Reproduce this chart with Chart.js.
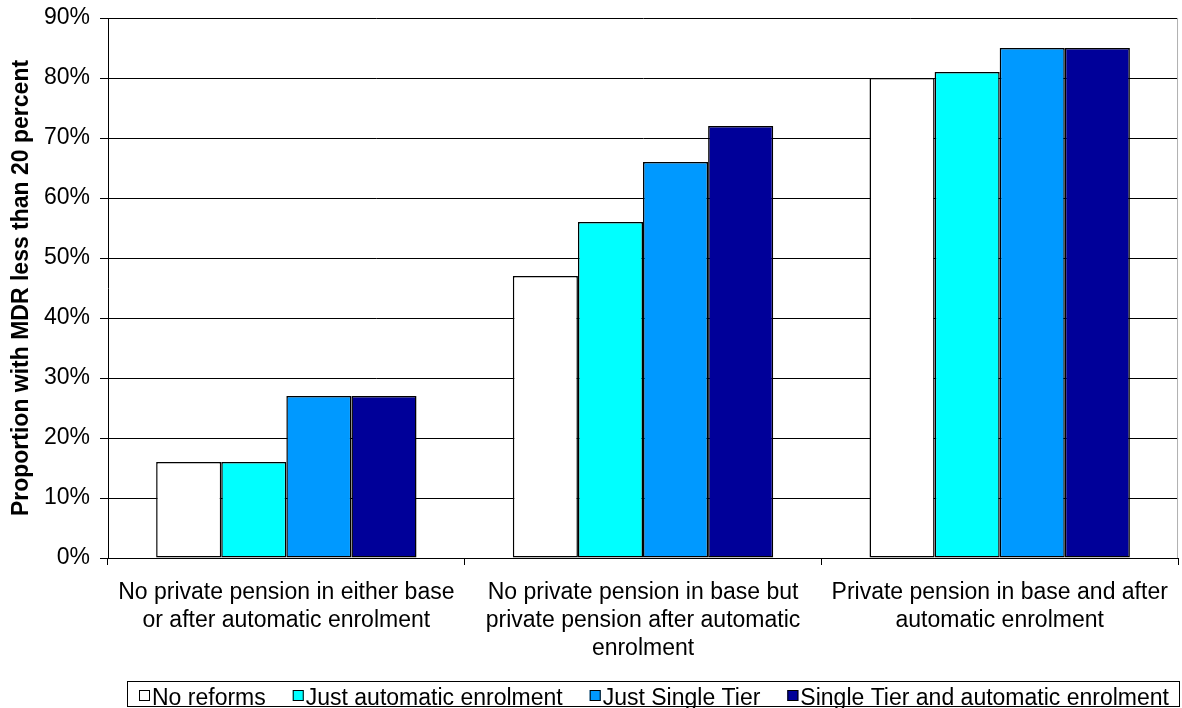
<!DOCTYPE html>
<html>
<head>
<meta charset="utf-8">
<script src="https://cdn.jsdelivr.net/npm/chart.js@4.4.0/dist/chart.umd.min.js"></script>
<style>
  html,body{margin:0;padding:0;background:#fff;}
  #wrap{position:relative;width:1182px;height:708px;}
</style>
</head>
<body>
<div id="wrap"><canvas id="chart" width="1182" height="708"></canvas></div>
<script>
const categories = [
  ['No private pension in either base', 'or after automatic enrolment'],
  ['No private pension in base but', 'private pension after automatic', 'enrolment'],
  ['Private pension in base and after', 'automatic enrolment']
];
const seriesNames = ['No reforms', 'Just automatic enrolment', 'Just Single Tier', 'Single Tier and automatic enrolment'];
const seriesColors = ['#ffffff', '#00ffff', '#0099ff', '#000099'];
const noReforms = [16, 47, 80];
const justAuto = [16, 56, 81];
const justSingleTier = [27, 66, 85];
const singleTierAuto = [27, 72, 85];
const yTicks = [0, 10, 20, 30, 40, 50, 60, 70, 80, 90];

const FONT = 'Arial, "Liberation Sans", sans-serif';
const seriesValues = [noReforms, justAuto, justSingleTier, singleTierAuto];

// legend drawn inside a bordered strip along the bottom
const boxedLegend = {
  id: 'boxedLegend',
  afterDraw(chart){
    const ctx = chart.ctx;
    ctx.save();
    ctx.font = '23px ' + FONT;
    ctx.textBaseline = 'alphabetic';
    const top = 681, left = 127, right = 1180, bottom = 707;
    ctx.strokeStyle = '#000';
    ctx.lineWidth = 1;
    ctx.strokeRect(left + 0.5, top + 0.5, right - left - 1, bottom - top - 1);
    let x = 139;
    const baseline = 705;
    chart.data.datasets.forEach((ds) => {
      ctx.fillStyle = ds.backgroundColor;
      ctx.fillRect(x, baseline - 15, 11, 11);
      ctx.strokeStyle = '#000';
      ctx.strokeRect(x + 0.5, baseline - 14.5, 10, 10);
      x += 13;
      ctx.fillStyle = '#000';
      ctx.fillText(ds.label, x, baseline);
      x += ctx.measureText(ds.label).width + 27;
    });
    ctx.restore();
  }
};

// thin frame on the right side of the plot area
const plotFrame = {
  id: 'plotFrame',
  afterDatasetsDraw(chart){
    const {ctx, chartArea:a} = chart;
    ctx.save();
    ctx.strokeStyle = '#b0b0b0';
    ctx.lineWidth = 1;
    ctx.beginPath();
    ctx.moveTo(a.right - 0.5, a.top);
    ctx.lineTo(a.right - 0.5, a.bottom);
    ctx.stroke();
    ctx.restore();
  }
};

new Chart(document.getElementById('chart'), {
  type: 'bar',
  data: {
    labels: categories,
    datasets: seriesNames.map((name, i) => ({
      label: name,
      data: seriesValues[i],
      backgroundColor: seriesColors[i],
      borderColor: '#000',
      borderWidth: 1.5,
      borderSkipped: false,
      barPercentage: 1,
      categoryPercentage: 0.73
    }))
  },
  options: {
    responsive: false,
    animation: false,
    devicePixelRatio: 1,
    layout: {padding: {top: 18, right: 1, left: 0, bottom: 0}},
    plugins: {legend: {display: false}, tooltip: {enabled: false}},
    scales: {
      y: {
        min: 0, max: 90,
        afterBuildTicks(scale){ scale.ticks = yTicks.map(v => ({value: v})); },
        afterFit(scale){
          scale.width = 108;
          scale.paddingTop = 0;
          scale.paddingBottom = 0;
        },
        ticks: {
          callback: v => v + '%',
          color: '#000',
          font: {family: FONT, size: 23},
          padding: 10
        },
        grid: {color: '#000', lineWidth: 1, tickLength: 8},
        border: {color: '#000', width: 1},
        title: {
          display: true,
          text: 'Proportion with MDR less than 20 percent',
          color: '#000',
          font: {family: FONT, size: 23, weight: 'bold'},
          padding: {top: 8, bottom: 0}
        }
      },
      x: {
        afterFit(scale){ scale.height = 150; },
        ticks: {
          color: '#000',
          font: {family: FONT, size: 23, lineHeight: 1.22},
          maxRotation: 0,
          autoSkip: false,
          padding: 14
        },
        grid: {drawOnChartArea: false, color: '#000', tickLength: 7, offset: true},
        border: {color: '#000', width: 1}
      }
    }
  },
  plugins: [boxedLegend, plotFrame]
});
</script>
</body>
</html>
